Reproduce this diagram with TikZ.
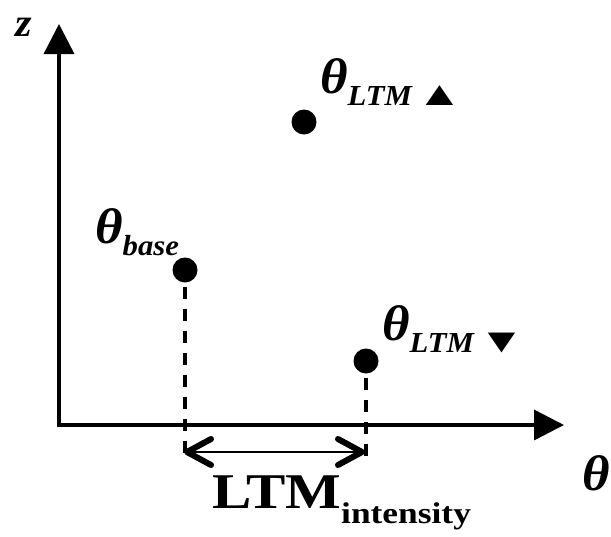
\documentclass[tikz,border=0pt]{standalone}
\usepackage{fontspec}
\setmainfont{Liberation Serif}
\usetikzlibrary{arrows.meta}
\newcommand{\wide}[2][1.18]{\scalebox{#1}[1]{#2}}
\newcommand{\trimark}[1]{\hspace{4pt}\wide[1.3]{\fontsize{34}{34}\selectfont\upshape #1}}
\newcommand{\thsub}[1]{\wide[1.06]{\fontsize{50}{50}\selectfont\bfseries\itshape θ\raisebox{-12pt}{\fontsize{29}{29}\selectfont #1}}}
\begin{document}
\begin{tikzpicture}[x=1pt,y=-1pt,line join=miter,every node/.style={inner sep=0pt},
  dot/.style={circle,fill,minimum size=25pt,inner sep=0pt},
  drop/.style={line width=3.5pt,dash pattern=on 12pt off 10pt,dash phase=-4pt},
  axis/.style={line width=3.5pt,{Triangle[length=30pt,width=30pt]}-{Triangle[length=30pt,width=30pt]}},
  span/.style={line width=2.5pt,{Straight Barb[length=24pt,width=26pt,line width=6pt,round]}-{Straight Barb[length=24pt,width=26pt,line width=6pt,round]}}]
  \useasboundingbox (0,0) rectangle (611,536);
  \coordinate (o) at (59,425);
  \coordinate (ztip) at (59,24);
  \coordinate (ttip) at (564,425);
  \draw[axis] (ztip) -- (o) -- (ttip);
  \node[dot] (base) at (185,270) {};
  \node[dot] (up) at (304,122) {};
  \node[dot] (down) at (366,361) {};
  \coordinate (bbot) at (185,461);
  \coordinate (dbot) at (366,461);
  \draw[drop] (base) -- (bbot);
  \draw[drop] (down) -- (dbot);
  \coordinate (al) at (184,452);
  \coordinate (ar) at (365,452);
  \draw[span] (al) -- (ar);
  \node[anchor=base west] (zlab) at (15,36) {\wide[1.06]{\fontsize{40}{40}\selectfont\bfseries\itshape z}};
  \node[anchor=base west] (tlab) at (582,490) {\wide[1.06]{\fontsize{50}{50}\selectfont\bfseries\itshape θ}};
  \node[anchor=base west] (baselab) at (95,243) {\thsub{base}};
  \node[anchor=base west] (uplab) at (320,93) {\thsub{LTM\trimark{▲}}};
  \node[anchor=base west] (downlab) at (382,340) {\thsub{LTM\trimark{▼}}};
  \node[anchor=base west] (ilab) at (212,508) {\wide{\fontsize{50}{50}\selectfont\bfseries LTM\raisebox{-15pt}{\fontsize{30}{30}\selectfont intensity}}};
\end{tikzpicture}
\end{document}
